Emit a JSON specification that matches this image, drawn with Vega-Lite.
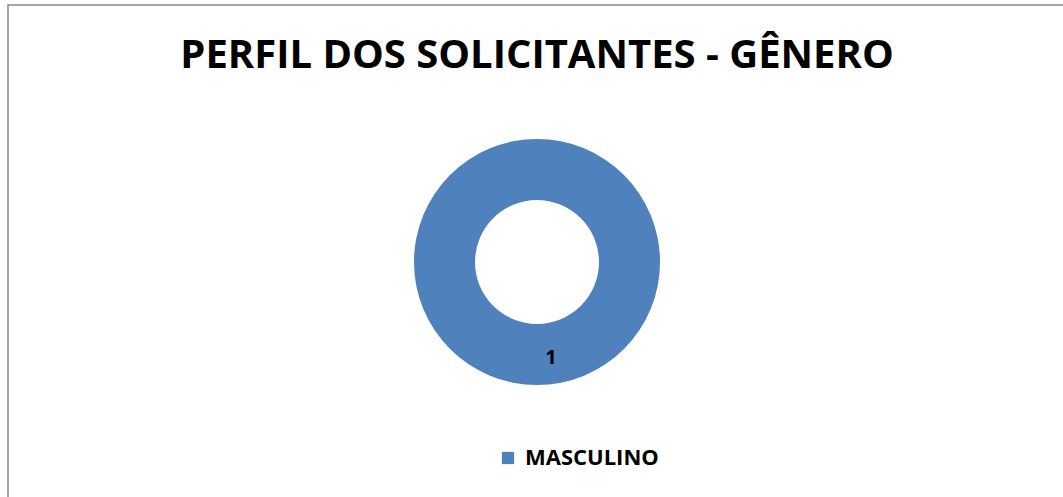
{
  "$schema": "https://vega.github.io/schema/vega-lite/v6.json",
  "autosize": "none",
  "width": 1058,
  "height": 514,
  "padding": {"left": 8, "top": 5, "right": 0, "bottom": 0},
  "background": "white",
  "view": {"stroke": "#898989", "strokeWidth": 1.5},
  "title": {
    "text": "PERFIL DOS SOLICITANTES - GÊNERO",
    "font": "Open Sans",
    "fontSize": 40,
    "fontWeight": "bold",
    "color": "black",
    "anchor": "middle",
    "orient": "top",
    "baseline": "top",
    "offset": -35,
    "dy": 36
  },
  "data": {"values": [{"genero": "MASCULINO", "valor": 1}]},
  "layer": [
    {
      "mark": {"type": "arc", "outerRadius": 123, "innerRadius": 62},
      "encoding": {
        "theta": {"field": "valor", "type": "quantitative", "stack": true},
        "color": {
          "field": "genero",
          "type": "nominal",
          "scale": {"range": ["#4F81BD"]},
          "legend": {
            "orient": "none",
            "legendX": 489,
            "legendY": 442,
            "title": null,
            "padding": 0,
            "symbolType": "square",
            "symbolSize": 150,
            "symbolStrokeWidth": 0,
            "symbolOpacity": 1,
            "labelFont": "Open Sans",
            "labelFontSize": 22,
            "labelFontWeight": "bold",
            "labelColor": "black",
            "labelOffset": 6
          }
        }
      }
    },
    {
      "mark": {"type": "text", "radius": 92, "font": "Open Sans", "fontSize": 20, "fontWeight": "bold", "color": "black", "dx": 14, "dy": 4},
      "encoding": {
        "theta": {"field": "valor", "type": "quantitative", "stack": true},
        "text": {"field": "valor", "type": "quantitative"}
      }
    }
  ]
}
